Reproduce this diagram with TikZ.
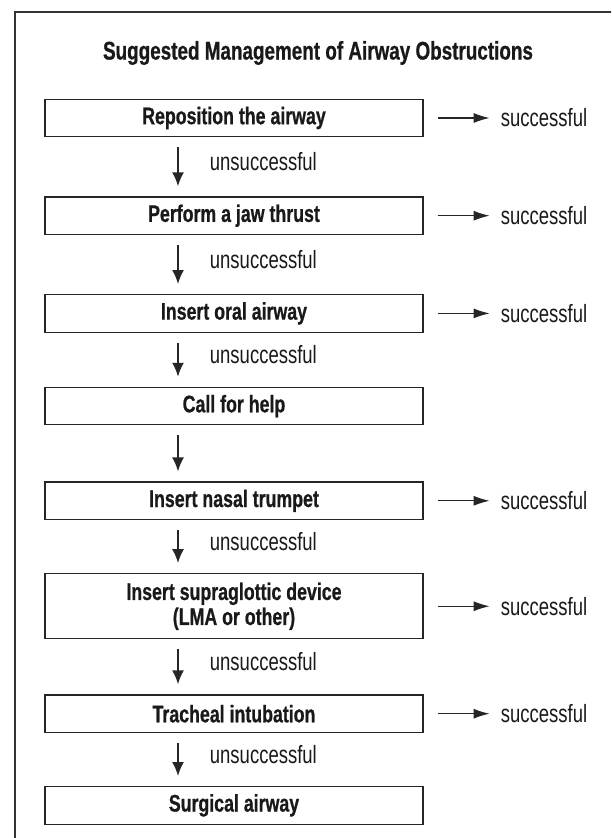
\documentclass[tikz,border=0pt]{standalone}
\usepackage{fontspec}
\setmainfont{Liberation Sans}[FakeStretch=0.74, BoldFeatures={FakeBold=0.7}]
\usetikzlibrary{positioning}
\usetikzlibrary{arrows.meta}

\begin{document}
\begin{tikzpicture}[x=1pt, y=1pt]
        \tikzstyle{box_style} = [rectangle, draw=black!85, line width=1.2pt, minimum width=378pt, minimum height=37.5pt, inner sep=0pt, align=center, text=black!90, font=\fontsize{24}{25}\selectfont\bfseries]
        \tikzstyle{ok_style} = [inner sep=0pt, text=black!90, font=\fontsize{25}{29}\selectfont]
        \tikzstyle{arrow_style1} = [-{Latex[length=14pt, width=12pt]}, black!85, line width=1.8pt, shorten <=10pt, shorten >=10pt]
        \tikzstyle{arrow_style2} = [-{Latex[length=16pt, width=10pt]}, black!85, line width=1.1pt, shorten <=14pt, shorten >=11pt]

        \useasboundingbox (0,0) rectangle (611,-838);
        \clip (0,0) rectangle (611,-838);
        \draw[black!80, line width=1.6pt] (15,-12) rectangle (630,-860);

        \node[inner sep=0pt, text=black!90, font=\fontsize{25.5}{30}\selectfont\bfseries] (title) at (318,-53) {Suggested Management of Airway Obstructions};

        \node[box_style] (n1) at (234,-118) {Reposition the airway};
        \node[box_style] (n2) [below=59pt of n1] {Perform a jaw thrust};
        \node[box_style] (n3) [below=59pt of n2] {Insert oral airway};
        \node[box_style] (n4) [below=54pt of n3] {Call for help};
        \node[box_style] (n5) [below=56pt of n4] {Insert nasal trumpet};
        \node[box_style, minimum height=65pt] (n6) [below=53pt of n5] {Insert supraglottic device\\(LMA or other)};
        \node[box_style] (n7) [below=55pt of n6] {Tracheal intubation};
        \node[box_style] (n8) [below=53pt of n7] {Surgical airway};

        % successful branches
        \foreach \i in {1,2,3,5,6,7} {
            \node[ok_style, anchor=west] (s\i) [right=77pt of n\i] {successful};
            \draw[arrow_style2] (n\i) -- (s\i);
        }

        % unsuccessful steps
        \foreach \a/\b in {1/2,2/3,3/4,5/6,6/7,7/8} {
            \draw[arrow_style1] ([xshift=-56pt]n\a.south) -- ([xshift=-56pt]n\b.north)
                node[ok_style, midway, anchor=west, xshift=31pt, yshift=5pt] {unsuccessful};
        }
        \draw[arrow_style1] ([xshift=-56pt]n4.south) -- ([xshift=-56pt]n5.north);

    \end{tikzpicture}
\end{document}
